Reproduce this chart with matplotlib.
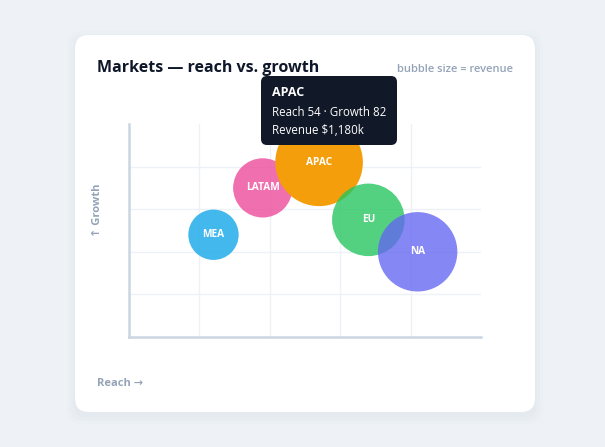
import matplotlib.pyplot as plt
from matplotlib.patches import FancyBboxPatch
import numpy as np

plt.rcParams['font.family'] = ['Open Sans', 'DejaVu Sans']

markets = ["MEA", "LATAM", "APAC", "EU", "NA"]
reach = [24, 38, 54, 68, 82]
growth = [48, 70, 82, 55, 40]
revenue = [390, 540, 1180, 810, 970]
colors = ["#0ea5e9", "#ec4899", "#f59e0b", "#22c55e", "#6366f1"]
alphas = [0.78, 0.78, 1.0, 0.78, 0.78]

W, H = 605, 447
fig = plt.figure(figsize=(W / 100, H / 100), dpi=100)
fig.patch.set_facecolor("#eef2f7")

# background layer in pixel coordinates (y down)
bg = fig.add_axes([0, 0, 1, 1])
bg.set_xlim(0, W)
bg.set_ylim(H, 0)
bg.axis("off")

# soft shadow + card
for i, a in enumerate([0.025, 0.02, 0.015]):
    d = 2 + i * 3
    bg.add_patch(FancyBboxPatch((75 - d + 14, 35 - d + 18), 460 + 2 * d - 28, 377 + 2 * d - 28,
                                boxstyle="round,pad=14", fc="#64748b", ec="none", alpha=a))
bg.add_patch(FancyBboxPatch((75 + 14, 35 + 14), 460 - 28, 377 - 28,
                            boxstyle="round,pad=14", fc="white", ec="none"))

bg.text(97, 68, "Markets — reach vs. growth", fontsize=11.5, fontweight="bold",
        color="#0f172a", va="center", ha="left")
bg.text(513, 70, "bubble size = revenue", fontsize=8.0, fontweight="semibold",
        color="#94a3b8", va="center", ha="right")
bg.text(97, 210, "↑ Growth", fontsize=8, fontweight="bold", color="#94a3b8",
        rotation=90, va="center", ha="center")
bg.text(97, 383, "Reach →", fontsize=8, fontweight="bold", color="#94a3b8",
        va="center", ha="left")

# plot area
ax = fig.add_axes([129 / W, (H - 337) / H, 352 / W, 213 / H])
ax.set_facecolor("none")
ax.set_xlim(0, 100)
ax.set_ylim(0, 100)
ax.set_xticks(np.arange(20, 100, 20))
ax.set_yticks(np.arange(20, 100, 20))
ax.tick_params(length=0, labelbottom=False, labelleft=False)
ax.grid(True, color="#eef2f7", linewidth=1)
ax.set_axisbelow(True)
for s in ["top", "right"]:
    ax.spines[s].set_visible(False)
for s in ["left", "bottom"]:
    ax.spines[s].set_color("#cbd5e1")
    ax.spines[s].set_linewidth(1.8)

# bubble radius in pixels from revenue (sqrt scale)
radius_px = 1.275 * np.sqrt(np.array(revenue))
sizes = (2 * radius_px * 0.72) ** 2
for m, x, y, s, c, a in zip(markets, reach, growth, sizes, colors, alphas):
    ax.scatter(x, y, s=s, color=c, alpha=a, edgecolors="none", clip_on=False, zorder=3)
    ax.text(x, y, m, color="white", fontsize=7.3, fontweight="bold",
            ha="center", va="center", zorder=4)

# tooltip for APAC, on its own top layer
top = fig.add_axes([0, 0, 1, 1])
top.set_xlim(0, W)
top.set_ylim(H, 0)
top.axis("off")
top.add_patch(FancyBboxPatch((261 + 6, 76 + 6), 136 - 12, 69 - 12,
                             boxstyle="round,pad=6", fc="#111827", ec="none"))
top.text(272, 93, "APAC", color="white", fontsize=9, fontweight="bold",
         va="center", ha="left")
top.text(272, 112, "Reach 54 · Growth 82", color="white", fontsize=8.3,
         fontweight="medium", va="center", ha="left")
top.text(272, 130, "Revenue $1,180k", color="white", fontsize=8.3,
         fontweight="medium", va="center", ha="left")

fig.savefig("out.png", dpi=100)
